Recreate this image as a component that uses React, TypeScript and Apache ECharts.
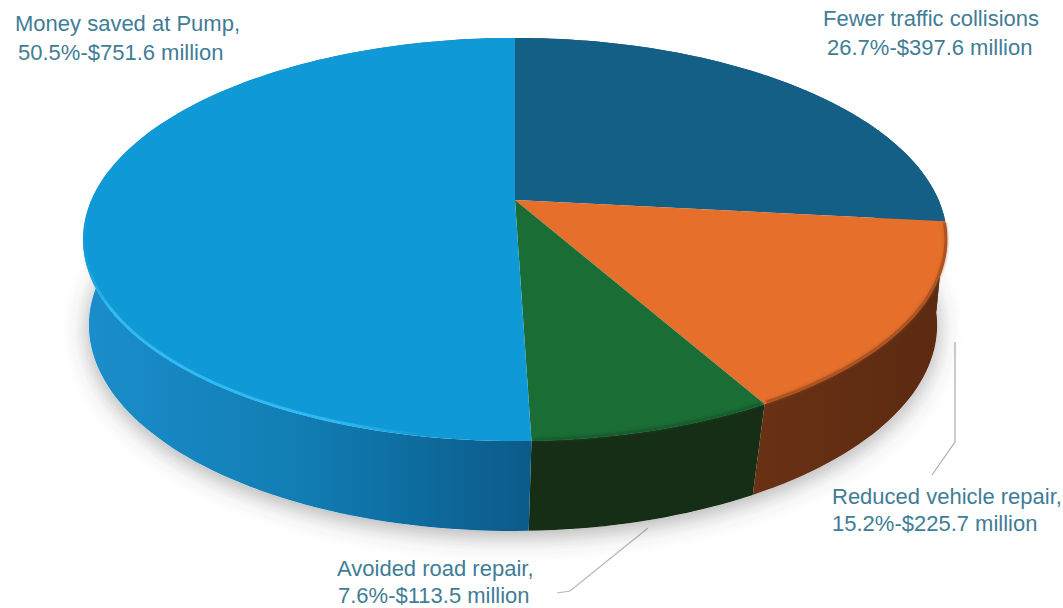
import React, { useEffect, useRef } from "react";
import * as echarts from "echarts";

const categories = ["Fewer traffic collisions", "Reduced vehicle repair,", "Avoided road repair,", "Money saved at Pump,"];
const millions = [397.6, 225.7, 113.5, 751.6];
const percents = ["26.7", "15.2", "7.6", "50.5"];
const topColors = ["#135f86", "#e56f2b", "#1b6d36", "#0f9ad7"];
const rimColors = ["#0f5478", "#a34e1e", "#175a2c", "#2fb6ee"];

const TEXT = "#3f7d96";
type Disc = { cx: number; cy: number; a: number; b: number; k: number };
const TOP: Disc = { cx: 515, cy: 200, a: 423.6, b: 193.8, k: 0.196 };
const BOTTOM: Disc = { cx: 513, cy: 290, a: 418, b: 200, k: 0.17 };

function project(deg: number, d: Disc) {
  const t = (deg * Math.PI) / 180;
  const u = Math.sin(t);
  const v = -Math.cos(t);
  const w = 1 - d.k * v;
  return [d.cx + (d.a * u) / w, d.cy + (d.b * v) / w];
}

function arc(from: number, to: number, d: Disc) {
  const pts: number[][] = [];
  const n = Math.max(2, Math.ceil(Math.abs(to - from) / 1.5));
  for (let i = 0; i <= n; i++) pts.push(project(from + ((to - from) * i) / n, d));
  return pts;
}

const total = millions.reduce((s, x) => s + x, 0);
let acc = 0;
const slices = millions.map((m, i) => {
  const s = (acc / total) * 360;
  acc += m;
  return [s, (acc / total) * 360, i];
});

const sideFill = [
  "#0f5478",
  new echarts.graphic.LinearGradient(0, 0, 1, 0, [
    { offset: 0, color: "#6a3114" },
    { offset: 1, color: "#5a2a11" },
  ]),
  "#162e15",
  new echarts.graphic.LinearGradient(0, 0, 1, 0, [
    { offset: 0, color: "#1a8ecb" },
    { offset: 0.5, color: "#117cb3" },
    { offset: 1, color: "#0b5b89" },
  ]),
];

function lineTexts() {
  const spots = [
    [823, 18, 827, 47],
    [832, 496, 832, 523],
    [337, 568, 338, 595],
    [15, 23, 18, 52],
  ];
  const out: any[] = [];
  categories.forEach((c, i) => {
    const [x1, y1, x2, y2] = spots[i];
    const common = { fill: TEXT, font: "22px 'Liberation Sans', Arial, sans-serif", verticalAlign: "middle" };
    out.push({ type: "text", x: x1, y: y1, style: { ...common, text: c } });
    out.push({ type: "text", x: x2, y: y2, style: { ...common, text: `${percents[i]}%-$${millions[i].toFixed(1)} million` } });
  });
  return out;
}

export default function App() {
  const ref = useRef<HTMLDivElement>(null);
  useEffect(() => {
    document.body.style.margin = "0";
    const chart = echarts.init(ref.current!, null, { renderer: "svg" });
    chart.setOption({
      animation: false,
      backgroundColor: "#ffffff",
      graphic: [
        ...lineTexts(),
        { type: "polyline", shape: { points: [[955, 342], [955, 442], [932, 475]] }, style: { stroke: "#a9aeb0", lineWidth: 1.2, fill: "none" } },
        { type: "polyline", shape: { points: [[648, 528], [570, 591], [557, 593]] }, style: { stroke: "#b4b8ba", lineWidth: 1.2, fill: "none" } },
      ],
      series: [
        {
          type: "custom",
          coordinateSystem: "none",
          silent: true,
          data: [[0]],
          renderItem: () => ({
            type: "polygon",
            shape: { points: arc(0, 360, BOTTOM) },
            style: { fill: "#ffffff", shadowBlur: 24, shadowColor: "rgba(70,70,70,0.45)", shadowOffsetY: 5 },
          }),
        },
        {
          type: "custom",
          coordinateSystem: "none",
          silent: true,
          data: slices,
          renderItem: (_p: any, api: any) => {
            const s = api.value(0), e = api.value(1), i = api.value(2);
            return {
              type: "polygon",
              shape: { points: [...arc(s, e, TOP), ...arc(e, s, BOTTOM)] },
              style: { fill: sideFill[i], stroke: "none" },
            };
          },
        },
        {
          type: "custom",
          coordinateSystem: "none",
          silent: true,
          data: slices,
          renderItem: (_p: any, api: any) => {
            const s = api.value(0), e = api.value(1), i = api.value(2);
            return {
              type: "polygon",
              shape: { points: [[TOP.cx, TOP.cy], ...arc(s, e, TOP)] },
              style: { fill: topColors[i], stroke: "none" },
            };
          },
        },
        {
          type: "custom",
          coordinateSystem: "none",
          silent: true,
          data: slices.filter((r) => r[2] === 1 || r[2] === 2),
          renderItem: (_p: any, api: any) => {
            const s = api.value(0), e = api.value(1), i = api.value(2);
            return {
              type: "polyline",
              shape: { points: arc(s + 0.5, e - 0.3, { ...TOP, a: TOP.a - 1, b: TOP.b - 1 }) },
              style: { fill: "none", stroke: rimColors[i], lineWidth: 3, opacity: 0.7, shadowBlur: 3, shadowColor: rimColors[i] },
            };
          },
        },
        {
          type: "custom",
          coordinateSystem: "none",
          silent: true,
          data: [[0]],
          renderItem: () => ({
            type: "polyline",
            shape: { points: arc(190, 264, { ...TOP, a: TOP.a - 1, b: TOP.b - 1 }) },
            style: {
              fill: "none",
              lineWidth: 3,
              stroke: new echarts.graphic.LinearGradient(0, 0, 1, 0, [
                { offset: 0, color: "rgba(47,182,238,0.1)" },
                { offset: 0.08, color: "rgba(50,188,244,0.95)" },
                { offset: 0.75, color: "rgba(50,188,244,0.9)" },
                { offset: 1, color: "rgba(47,182,238,0)" },
              ]),
            },
          }),
        },
      ],
    });
    return () => chart.dispose();
  }, []);
  return <div ref={ref} style={{ width: 1063, height: 608 }} />;
}
